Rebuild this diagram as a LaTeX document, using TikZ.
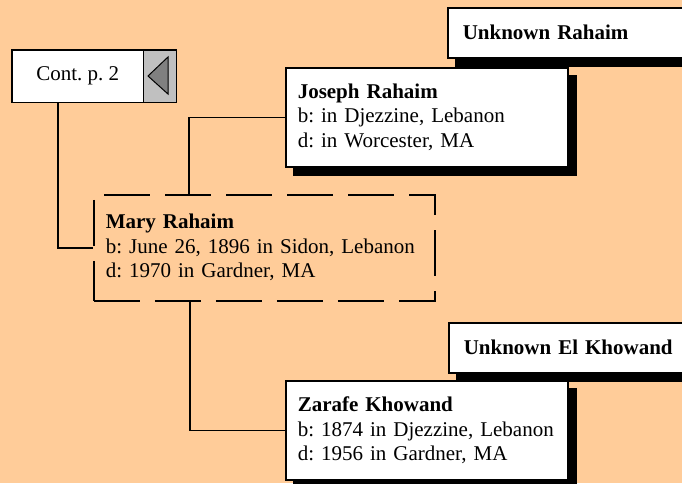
\documentclass[tikz,border=0pt]{standalone}
\usepackage{fontspec}
\setmainfont{Liberation Serif}
\usepackage{tikz}
\usetikzlibrary{shadows}
\frenchspacing

\definecolor{peach}{RGB}{255,204,153}
\definecolor{contgray}{RGB}{192,192,192}
\definecolor{arrowgray}{RGB}{128,128,128}

\tikzset{
	blackshadow/.style={general shadow={fill=black, draw=black, shadow xshift=8pt, shadow yshift=-8pt}},
	person/.style={shape=rectangle, draw=black, line width=1.5pt, fill=white, anchor=north west, align=left,
		minimum width=282pt, minimum height=99pt, text width=258pt, inner xsep=12pt,
		font=\fontsize{21}{24.5}\selectfont, blackshadow},
	parent/.style={shape=rectangle, draw=black, line width=1.5pt, fill=white, anchor=north west, align=left,
		minimum width=260pt, minimum height=50pt, text width=230pt, inner xsep=15pt,
		font=\fontsize{21}{24.5}\selectfont\bfseries, blackshadow},
	link/.style={draw=black, line width=1.5pt}
}

\begin{document}
\begin{tikzpicture}[x=1pt, y=-1pt]
	
	\fill[peach] (0,0) rectangle (682,483);
	\clip (0,0) rectangle (682,483);
	
	\node[parent] (urahaim) at (447, 7)     {Unknown Rahaim};
	\node[person] (joseph) at (285, 67)     {\textbf{Joseph Rahaim}\\b: in Djezzine, Lebanon\\d: in Worcester, MA};
	\node[parent] (ukhowand) at (448, 322)  {Unknown El Khowand};
	\node[person] (zarafe) at (285, 380)    {\textbf{Zarafe Khowand}\\b: 1874 in Djezzine, Lebanon\\d: 1956 in Gardner, MA};
	\node[shape=rectangle, draw=black, line width=1.5pt, dash pattern=on 46pt off 15pt, anchor=north west, align=left,
		minimum width=341pt, minimum height=106pt, text width=317pt, inner xsep=12pt,
		font=\fontsize{21}{24.5}\selectfont] (mary) at (93, 194)
		{\textbf{Mary Rahaim}\\b: June 26, 1896 in Sidon, Lebanon\\d: 1970 in Gardner, MA\\[4pt]};
	
	\node[shape=rectangle, fill=white, anchor=north west, minimum width=131pt, minimum height=52pt,
		inner xsep=13pt, font=\fontsize{21}{24.5}\selectfont] (cont) at (12, 50) {Cont. p. 2};
	\node[shape=rectangle, fill=contgray, anchor=north west, minimum width=33pt, minimum height=52pt] (contarrow) at (143, 50) {};
	\draw[line width=1pt] (cont.north east) -- (cont.south east);
	\filldraw[fill=arrowgray, line width=1pt] (148, 76) -- (168, 57) -- (168, 94) -- cycle;
	\draw[line width=1.8pt] (cont.north west) rectangle (contarrow.south east);
	
	\coordinate (contdrop) at (58, 102);
	\coordinate (marytop) at (189, 194);
	\coordinate (marybottom) at (190, 300);
	
	\path[link] (contdrop) |- (mary.west);
	\path[link] (marytop) |- (joseph.west);
	\path[link] (marybottom) |- (zarafe.west);
\end{tikzpicture}
\end{document}
